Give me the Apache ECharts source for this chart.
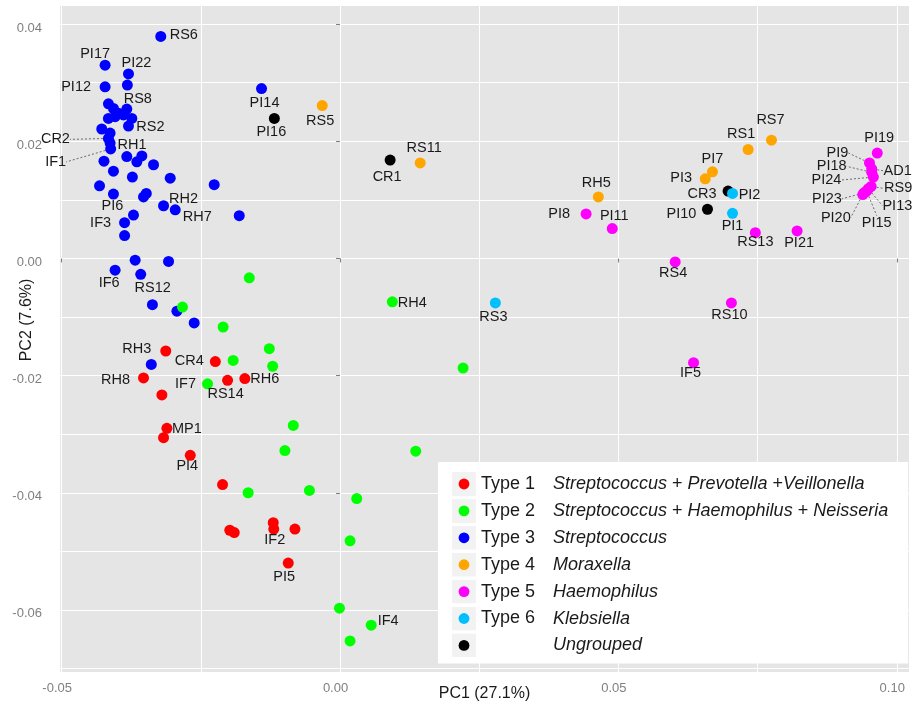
<!DOCTYPE html>
<html>
<head>
<meta charset="utf-8">
<script src="https://cdn.jsdelivr.net/npm/echarts@6/dist/echarts.min.js"></script>
<style>
html,body{margin:0;padding:0;background:#fff;}
#chart{width:914px;height:704px;}
</style>
</head>
<body>
<div id="chart"></div>
<script>
var FONT = '"Liberation Sans", Arial, Helvetica, sans-serif';

// [PC1, PC2, sample]
var type1 = [
    [-0.0313,-0.0158,'RH3'], [-0.0224,-0.0176,'CR4'], [-0.0353,-0.0204,'RH8'],
    [-0.0202,-0.0208,'RS14'], [-0.0171,-0.0205,'RH6'], [-0.0320,-0.0233,''],
    [-0.0311,-0.0290,'MP1'], [-0.0317,-0.0306,''], [-0.0269,-0.0336,'PI4'],
    [-0.0211,-0.0386,''], [-0.0198,-0.0464,''], [-0.0190,-0.0468,''],
    [-0.0120,-0.0451,''], [-0.0119,-0.0462,'IF2'], [-0.0081,-0.0462,''],
    [-0.0093,-0.0520,'PI5']
];
var type2 = [
    [-0.0163,-0.0033,''], [-0.0283,-0.0083,''], [-0.0210,-0.0117,''],
    [-0.0127,-0.0154,''], [-0.0192,-0.0174,''], [-0.0121,-0.0184,''],
    [-0.0238,-0.0214,'IF7'], [-0.0084,-0.0285,''], [-0.0099,-0.0328,''],
    [0.0136,-0.0329,''], [-0.0165,-0.0400,''], [-0.0055,-0.0396,''],
    [0.0030,-0.0410,''], [0.0018,-0.0482,''], [-0.0001,-0.0597,''],
    [0.0056,-0.0626,'IF4'], [0.0018,-0.0653,''], [0.0094,-0.0074,'RH4'],
    [0.0221,-0.0187,'']
];
var type3 = [
    [-0.0322,0.0379,'RS6'], [-0.0422,0.0330,'PI17'], [-0.0380,0.0315,'PI22'],
    [-0.0382,0.0296,''], [-0.0422,0.0293,'PI12'], [-0.0416,0.0264,''],
    [-0.0407,0.0256,''], [-0.0398,0.0248,''], [-0.0383,0.0255,'RS8'],
    [-0.0416,0.0239,''], [-0.0404,0.0242,''], [-0.0389,0.0245,''],
    [-0.0374,0.0239,''], [-0.0380,0.0226,'RS2'], [-0.0428,0.0221,''],
    [-0.0413,0.0214,''], [-0.0416,0.0205,'CR2'], [-0.0413,0.0197,'RH1'],
    [-0.0412,0.0187,'IF1'], [-0.0424,0.0166,''], [-0.0383,0.0174,''],
    [-0.0365,0.0165,''], [-0.0356,0.0175,''], [-0.0335,0.0160,''],
    [-0.0407,0.0149,''], [-0.0373,0.0139,''], [-0.0305,0.0137,''],
    [-0.0226,0.0126,''], [-0.0432,0.0124,''], [-0.0407,0.0110,'PI6'],
    [-0.0348,0.0111,''], [-0.0353,0.0105,''], [-0.0317,0.0090,'RH2'],
    [-0.0296,0.0083,'RH7'], [-0.0181,0.0073,''], [-0.0371,0.0074,''],
    [-0.0387,0.0061,'IF3'], [-0.0387,0.0039,''], [-0.0368,-0.0003,''],
    [-0.0308,-0.0005,''], [-0.0404,-0.0020,'IF6'], [-0.0358,-0.0027,'RS12'],
    [-0.0337,-0.0079,''], [-0.0293,-0.0090,''], [-0.0262,-0.0110,''],
    [-0.0339,-0.0181,''], [-0.0141,0.0290,'PI14']
];
var type4 = [
    [-0.0032,0.0261,'RS5'], [0.0144,0.0163,'RS11'], [0.0464,0.0105,'RH5'],
    [0.0775,0.0202,'RS7'], [0.0733,0.0186,'RS1'], [0.0669,0.0148,'PI7'],
    [0.0656,0.0136,'PI3']
];
var type5 = [
    [0.0442,0.0076,'PI8'], [0.0489,0.0051,'PI11'], [0.0746,0.0044,'RS13'],
    [0.0821,0.0047,'PI21'], [0.0602,-0.0006,'RS4'], [0.0703,-0.0076,'RS10'],
    [0.0635,-0.0178,'IF5'], [0.0965,0.0180,'PI19'], [0.0951,0.0163,'PI9'],
    [0.0955,0.0153,'AD1'], [0.0955,0.0147,'PI18'], [0.0958,0.0139,'PI24'],
    [0.0954,0.0123,'RS9'], [0.0949,0.0119,'PI13'], [0.0946,0.0115,'PI15'],
    [0.0941,0.0112,'PI23'], [0.0939,0.0109,'PI20']
];
var type6 = [
    [0.0705,0.0111,'PI2'], [0.0705,0.0077,'PI1'], [0.0279,-0.0076,'RS3']
];
var ungrouped = [
    [-0.0118,0.0239,'PI16'], [0.0090,0.0168,'CR1'], [0.0697,0.0115,'CR3'],
    [0.0660,0.0084,'PI10']
];

var typeNames = ['Type 1','Type 2','Type 3','Type 4','Type 5','Type 6','Ungrouped'];
// genus text, italic parts and plain "+" parts alternate
var typeGenus = [
    ['Streptococcus',' + ','Prevotella',' +','Veillonella'],
    ['Streptococcus',' + ','Haemophilus',' + ','Neisseria'],
    ['Streptococcus'],
    ['Moraxella'],
    ['Haemophilus'],
    ['Klebsiella'],
    ['Ungrouped']
];
var typePoints = [type1, type2, type3, type4, type5, type6, ungrouped];
var typeColors = ['#ff0000','#00ff00','#0000ff','#ffa500','#ff00ff','#00bfff','#000000'];

var xGridValues = [-0.05,-0.025,0,0.025,0.05,0.075,0.1];
var xTickValues = [-0.05,0,0.05,0.1];
var yGridValues = [-0.07,-0.06,-0.05,-0.04,-0.03,-0.02,-0.01,0,0.01,0.02,0.03,0.04];
var yTickValues = [-0.06,-0.04,-0.02,0,0.02,0.04];

// label placement (px from point centre), leader lines for the crowded ones
var labelOffsets = {
    RS6:[23,-1], PI17:[-10,-11], PI22:[8,-11], PI12:[-29,0], RS8:[11,-10], RS2:[22,1],
    RH1:[22,2], CR2:[-53,1], IF1:[-55,13], PI6:[-1,12], RH2:[20,-7], RH7:[22,7],
    IF3:[-24,0], IF6:[-6,13], RS12:[12,14], PI14:[3,14],
    RH3:[-29,-2], CR4:[-26,-1], RH8:[-28,2], RS14:[-2,14], RH6:[20,0], MP1:[20,1],
    PI4:[-3,11], IF2:[1,11], PI5:[-4,14],
    IF7:[-22,0], IF4:[17,-4], RH4:[20,1],
    RS5:[-2,15], RS11:[4,-15], RH5:[-2,-14], RS7:[-1,-20], RS1:[-7,-16], PI7:[0,-13], PI3:[-24,-1],
    PI8:[-27,0], PI11:[2,-13], RS13:[0,9], PI21:[2,12], RS4:[-2,11], RS10:[-2,12], IF5:[-3,10],
    PI19:[2,-15], PI9:[-32,-10], PI18:[-40,-6], AD1:[26,2], PI24:[-47,3], RS9:[27,2],
    PI13:[29,17], PI15:[10,32], PI23:[-37,6], PI20:[-27,23],
    PI16:[-3,14], CR1:[-3,17], CR3:[-26,3], PI10:[-26,5],
    PI2:[17,2], PI1:[0,13], RS3:[-2,14]
};
var leaderNames = ['CR2','IF1','PI9','PI18','AD1','PI24','RS9','PI23','PI13','PI20','PI15'];

var X_MIN = -0.0503, X_MAX = 0.1022;
var Y_MIN = -0.0706, Y_MAX = 0.0431;

function legendIcon(color){
    var svg = "<svg xmlns='http://www.w3.org/2000/svg' width='24' height='24'>" +
        "<rect width='24' height='24' fill='#f2f2f2'/>" +
        "<circle cx='12' cy='12' r='5.4' fill='" + color + "'/></svg>";
    return 'image://data:image/svg+xml;charset=utf-8,' + encodeURIComponent(svg);
}

function legendText(name){
    var idx = typeNames.indexOf(name);
    var str = idx === 6 ? '{t| }' : '{t|' + name + '}';
    var parts = typeGenus[idx];
    for (var i = 0; i < parts.length; i++) {
        str += (i % 2 === 0 ? '{i|' : '{n|') + parts[i] + '}';
    }
    return str;
}

function placeLabel(p){
    var off = labelOffsets[p.text];
    if (!off) return {};
    return {
        x: p.rect.x + p.rect.width / 2 + off[0],
        y: p.rect.y + p.rect.height / 2 + off[1],
        align: 'center',
        verticalAlign: 'middle'
    };
}

// draw order: green over blue, cyan over black
var drawOrder = [2,0,1,3,4,6,5];
var series = drawOrder.map(function(k){
    return {
        name: typeNames[k],
        type: 'scatter',
        xAxisIndex: 0,
        yAxisIndex: 0,
        symbol: 'circle',
        symbolSize: 11,
        silent: true,
        itemStyle: {color: typeColors[k], opacity: 1},
        label: {
            show: true,
            position: 'inside',
            formatter: function(p){ return p.data.value[2]; },
            fontFamily: FONT,
            fontSize: 14.5,
            color: '#1a1a1a'
        },
        labelLine: {show: false, lineStyle: {color: '#333', width: 0.7, type: [2,2]}},
        labelLayout: placeLabel,
        emphasis: {disabled: true},
        data: typePoints[k].map(function(p){
            return {value: p, labelLine: {show: leaderNames.indexOf(p[2]) >= 0}};
        })
    };
});

var chart = echarts.init(document.getElementById('chart'), null, {renderer: 'canvas'});
chart.setOption({
    animation: false,
    backgroundColor: '#fff',
    textStyle: {fontFamily: FONT},
    grid: {
        left: 60, right: 5, top: 6, bottom: 32,
        show: true, backgroundColor: '#e5e5e5', borderWidth: 0,
        outerBoundsMode: 'none'
    },
    legend: {
        orient: 'vertical',
        left: 438, top: 462,
        padding: [10, 20, 6, 14],
        backgroundColor: '#fff',
        itemWidth: 24, itemHeight: 24, itemGap: 2.9,
        selectedMode: false,
        data: typeNames.map(function(n, i){ return {name: n, icon: legendIcon(typeColors[i])}; }),
        formatter: legendText,
        textStyle: {
            fontFamily: FONT, fontSize: 18, color: '#1a1a1a',
            rich: {
                t: {width: 72, fontFamily: FONT, fontSize: 18, color: '#1a1a1a'},
                i: {fontStyle: 'italic', fontFamily: FONT, fontSize: 18, color: '#1a1a1a'},
                n: {fontFamily: FONT, fontSize: 18, color: '#1a1a1a'}
            }
        }
    },
    xAxis: [
        {   // grid lines
            type: 'value', min: X_MIN, max: X_MAX,
            axisLine: {show: false},
            axisTick: {show: false, customValues: xGridValues},
            axisLabel: {show: false, customValues: xGridValues},
            splitLine: {show: true, lineStyle: {color: '#ffffff', width: 1}}
        },
        {   // ticks and labels
            type: 'value', min: X_MIN, max: X_MAX, position: 'bottom',
            axisLine: {show: false},
            axisTick: {show: true, length: 4, customValues: xTickValues, lineStyle: {color: '#7f7f7f'}},
            axisLabel: {
                customValues: xTickValues, margin: 10, padding: [0, 9, 0, 0],
                formatter: function(v){ return v.toFixed(2); },
                color: '#7f7f7f', fontSize: 13, fontFamily: FONT
            },
            splitLine: {show: false},
            name: 'PC1 (27.1%)', nameLocation: 'middle', nameGap: 14,
            nameMoveOverlap: false,
            nameTextStyle: {color: '#1a1a1a', fontSize: 16, fontFamily: FONT}
        }
    ],
    yAxis: [
        {
            type: 'value', min: Y_MIN, max: Y_MAX,
            axisLine: {show: false},
            axisTick: {show: false, customValues: yGridValues},
            axisLabel: {show: false, customValues: yGridValues},
            splitLine: {show: true, lineStyle: {color: '#ffffff', width: 1}}
        },
        {
            type: 'value', min: Y_MIN, max: Y_MAX, position: 'left',
            axisLine: {show: false},
            axisTick: {show: true, length: 4, customValues: yTickValues, lineStyle: {color: '#7f7f7f'}},
            axisLabel: {
                customValues: yTickValues, margin: 18,
                formatter: function(v){ return '{v|' + v.toFixed(2) + '}'; },
                rich: {v: {padding: [8, 0, 0, 0], color: '#7f7f7f', fontSize: 13, fontFamily: FONT}},
                color: '#7f7f7f', fontSize: 13, fontFamily: FONT
            },
            splitLine: {show: false},
            name: 'PC2 (7.6%)', nameLocation: 'middle', nameGap: 25, nameRotate: 90,
            nameMoveOverlap: false,
            nameTextStyle: {color: '#1a1a1a', fontSize: 16, fontFamily: FONT, padding: [0, 0, 0, 38]}
        }
    ],
    series: series
});
</script>
</body>
</html>
